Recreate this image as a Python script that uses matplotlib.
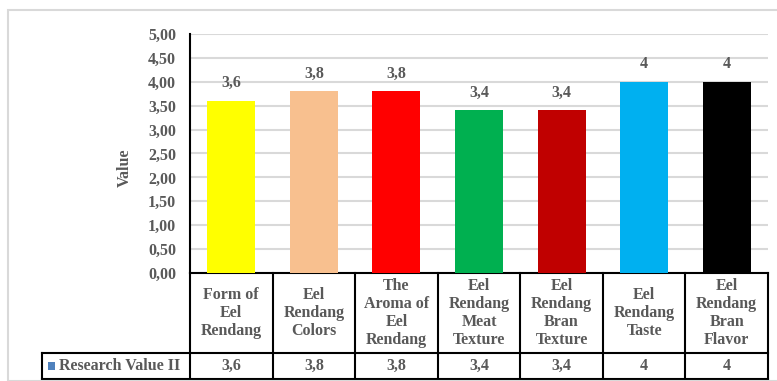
import matplotlib.pyplot as plt
import matplotlib.transforms as mtransforms
from matplotlib.patches import Rectangle

plt.rcParams['font.family'] = ['Liberation Serif', 'DejaVu Serif']
plt.rcParams['font.weight'] = 'bold'
plt.rcParams['axes.labelweight'] = 'bold'

categories = ['Form of\nEel\nRendang', 'Eel\nRendang\nColors', 'The\nAroma of\nEel\nRendang',
              'Eel\nRendang\nMeat\nTexture', 'Eel\nRendang\nBran\nTexture', 'Eel\nRendang\nTaste',
              'Eel\nRendang\nBran\nFlavor']
values = [3.6, 3.8, 3.8, 3.4, 3.4, 4, 4]
value_labels = ['3,6', '3,8', '3,8', '3,4', '3,4', '4', '4']
bar_colors = ['#FFFF00', '#F8C08F', '#FF0000', '#00B050', '#C00000', '#00B0F0', '#000000']
series_name = 'Research Value II'
yticks = [0, 0.5, 1, 1.5, 2, 2.5, 3, 3.5, 4, 4.5, 5]

txt = '#595959'
fs = 11.5

fig = plt.figure(figsize=(7.77, 3.81), dpi=100)
# outer chart frame
fig.patches.append(Rectangle((8/777, 0), 1.2, (381-10)/381, transform=fig.transFigure,
                             fill=False, edgecolor='#D9D9D9', linewidth=1.5))

ax = fig.add_axes([190/777, (381-273)/381, 578/777, 239/381])
x = list(range(len(values)))
ax.bar(x, values, width=0.58, color=bar_colors, zorder=3)
ax.set_xlim(-0.5, len(values) - 0.5)
ax.set_ylim(0, 5)
ax.set_yticks(yticks)
ax.yaxis.set_major_formatter(plt.FuncFormatter(lambda v, p: ('%.2f' % v).replace('.', ',')))
ax.tick_params(axis='y', length=0, pad=10, labelsize=fs, labelcolor=txt)
ax.tick_params(axis='x', length=0, labelbottom=False)
ax.grid(axis='y', color='#D9D9D9', linewidth=1.5, zorder=0)
for s in ['top', 'right', 'bottom']:
    ax.spines[s].set_visible(False)
ax.spines['left'].set_color('black')
ax.spines['left'].set_linewidth(1.5)
ax.set_ylabel('Value', fontsize=fs, color=txt)
ax.yaxis.set_label_coords(-57/578, 0.44)

for xi, v, lab in zip(x, values, value_labels):
    ax.annotate(lab, (xi, v), xytext=(0, 7), textcoords='offset points',
                ha='center', va='bottom', fontsize=fs, color=txt)

# data table below the axes
trans = mtransforms.blended_transform_factory(ax.transData, ax.transAxes)
y_head = -80/239
y_bot = -106/239
x_left = -0.5 - 148/82.6
lw = 1.5
kw = dict(color='black', linewidth=lw, transform=trans, clip_on=False, solid_capstyle='projecting')
ax.plot([-0.5, len(values) - 0.5], [0, 0], **kw)
ax.plot([x_left, len(values) - 0.5], [y_head, y_head], **kw)
ax.plot([x_left, len(values) - 0.5], [y_bot, y_bot], **kw)
for b in range(len(values) + 1):
    ax.plot([b - 0.5, b - 0.5], [0, y_bot], **kw)
ax.plot([x_left, x_left], [y_head, y_bot], **kw)

for xi, cat, lab in zip(x, categories, value_labels):
    ax.text(xi, y_head / 2, cat, transform=trans, ha='center', va='center',
            fontsize=fs, color=txt, linespacing=1.15)
    ax.text(xi, (y_head + y_bot) / 2, lab, transform=trans, ha='center', va='center',
            fontsize=fs, color=txt)

ax.add_patch(Rectangle((x_left + 0.07, (y_head + y_bot) / 2 - 0.016), 0.085, 0.031,
                       transform=trans, clip_on=False, facecolor='#4F81BD', edgecolor='none'))
ax.text(x_left + 0.21, (y_head + y_bot) / 2, series_name, transform=trans, ha='left',
        va='center', fontsize=fs, color=txt)

plt.savefig('out.png', dpi=100)
